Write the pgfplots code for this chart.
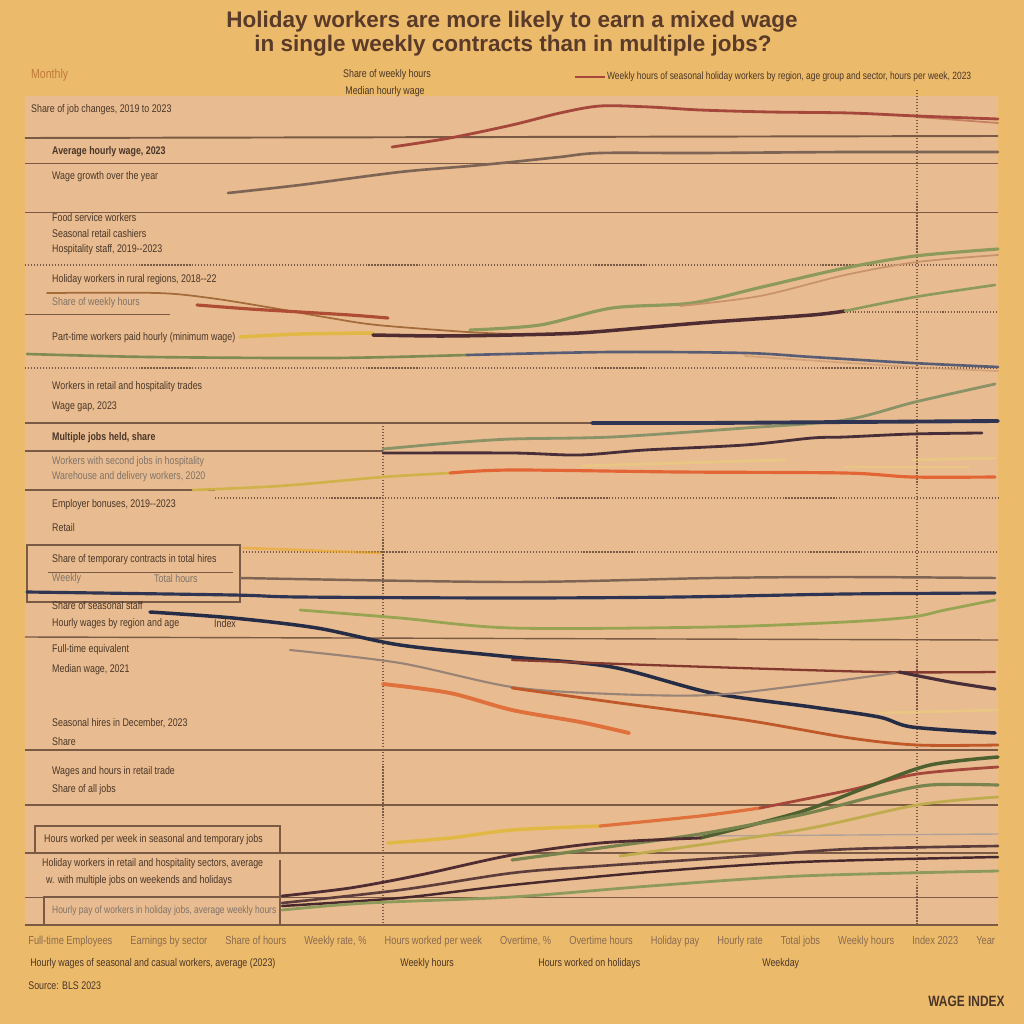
\documentclass[border=0pt]{standalone}
\usepackage{pgfplots}
\pgfplotsset{compat=1.18}
\usepackage{fontspec}
\setmainfont{Liberation Sans}
\newfontfamily\narrow[FakeStretch=0.8]{Liberation Sans}
\definecolor{outerbg}{HTML}{EBBA6A}
\definecolor{panel}{HTML}{E8BC90}
\definecolor{sep}{HTML}{7A5A45}
\definecolor{ink}{HTML}{4A3528}
\definecolor{titleink}{HTML}{5A3A28}
\definecolor{grayink}{HTML}{8A6A52}
\definecolor{redbrown}{HTML}{A5473A}
\definecolor{maroon}{HTML}{4F2C32}
\definecolor{navy}{HTML}{2E3452}
\definecolor{olive}{HTML}{8E9A5C}
\definecolor{tan}{HTML}{C8926A}
\definecolor{orangeline}{HTML}{E0703C}
\definecolor{yellowline}{HTML}{E2B845}
\definecolor{graybrown}{HTML}{7E6454}
\definecolor{darkgreen}{HTML}{4F6030}
\definecolor{orangeink}{HTML}{C07A3A}
\newcommand\lbl{\narrow\fontsize{6.3}{7}\selectfont}
\begin{document}
\begin{tikzpicture}
\begin{axis}[x=0.02cm,y=0.02cm,y dir=reverse,xmin=0,xmax=1024,ymin=0,ymax=1024,
  hide axis,clip=false,
  every axis plot/.append style={line cap=round,line join=round,smooth,tension=0.5,no markers}]
% backgrounds
\fill[outerbg] (axis cs:0,0) rectangle (axis cs:1024,1024);
\fill[panel] (axis cs:25,96) rectangle (axis cs:998,925);
% separators
\draw[sep,line width=1.1pt] (axis cs:25,138) -- (axis cs:998,136);
\draw[sep,line width=0.5pt] (axis cs:25,163) -- (axis cs:998,163);
\draw[sep,line width=0.5pt] (axis cs:25,212) -- (axis cs:998,212);
\draw[sep,line width=0.7pt,densely dotted] (axis cs:25,265) -- (axis cs:998,265);
\draw[sep,line width=0.5pt] (axis cs:25,314) -- (axis cs:170,314);
\draw[sep,line width=0.6pt,densely dotted] (axis cs:830,312) -- (axis cs:998,312);
\draw[sep,line width=0.7pt,densely dotted] (axis cs:25,368) -- (axis cs:998,368);
\draw[sep,line width=1.0pt] (axis cs:25,423) -- (axis cs:592,423);
\draw[sep,line width=0.9pt] (axis cs:25,451) -- (axis cs:383,451);
\draw[sep,line width=1.1pt] (axis cs:25,490) -- (axis cs:215,490);
\draw[sep,line width=0.7pt,densely dotted] (axis cs:215,498) -- (axis cs:998,498);
\draw[sep,line width=1.0pt] (axis cs:27,545) rectangle (axis cs:240,602);
\draw[sep,line width=0.4pt] (axis cs:48,572) -- (axis cs:233,572);
\draw[sep,line width=0.7pt,densely dotted] (axis cs:240,552) -- (axis cs:998,552);
\draw[sep,line width=0.8pt] (axis cs:25,637) -- (axis cs:998,640);
\draw[sep,line width=0.8pt] (axis cs:25,750) -- (axis cs:998,750);
\draw[sep,line width=0.8pt] (axis cs:25,805) -- (axis cs:998,805);
\draw[sep,line width=1.0pt] (axis cs:25,853) -- (axis cs:998,853);
\draw[sep,line width=0.6pt] (axis cs:35,826) rectangle (axis cs:280,853);
\draw[sep,line width=0.6pt] (axis cs:44,897) rectangle (axis cs:280,925);
\draw[sep,line width=0.6pt] (axis cs:280,860) -- (axis cs:280,897);
\draw[sep,line width=0.5pt] (axis cs:25,897) -- (axis cs:998,897);
\draw[sep,line width=1.2pt] (axis cs:25,925) -- (axis cs:998,925);
\draw[sep,line width=0.7pt,densely dotted] (axis cs:383,423) -- (axis cs:383,925);
\draw[sep,line width=0.7pt,densely dotted] (axis cs:917,90) -- (axis cs:917,925);
% ---------- series: top block
\addplot[redbrown,line width=1.6pt] coordinates {(392,147)(450,138)(512,125)(560,113)(600,106)(650,107)(700,110)(770,112)(850,113)(917,116)(998,119)};
\addplot[redbrown,line width=1.0pt,opacity=0.5] coordinates {(917,117)(998,123)};
\addplot[graybrown,line width=1.5pt] coordinates {(228,193)(300,185)(400,172)(470,166)(512,162)(560,157)(600,153)(700,153)(850,152)(998,152)};
% ---------- middle-upper block
\addplot[olive,line width=1.8pt] coordinates {(470,330)(540,325)(612,308)(692,303)(762,287)(845,268)(915,256)(998,249)};
\addplot[tan,line width=1.0pt] coordinates {(680,306)(760,296)(845,275)(917,262)(998,255)};
\addplot[graybrown!70!orange,line width=1.0pt] coordinates {(47,293)(157,293)(210,298)(267,307)(330,318)(377,325)(467,332)(512,334)};
\addplot[redbrown!90!orange,line width=1.8pt] coordinates {(197,305)(250,309)(300,312)(350,315)(388,318)};
\addplot[yellowline,line width=2.0pt] coordinates {(240,337)(300,334)(373,333)};
\addplot[maroon,line width=2.0pt] coordinates {(373,335)(440,336)(512,335)(579,333)(652,327)(712,322)(812,315)(845,311)};
\addplot[olive,line width=1.5pt] coordinates {(845,311)(915,297)(995,285)};
\addplot[olive!90!black,line width=1.5pt] coordinates {(27,354)(150,357)(333,358)(467,355)};
\addplot[navy!80!white,line width=1.5pt] coordinates {(467,355)(612,352)(745,353)(812,357)(912,363)(998,367)};
\addplot[tan,line width=1.0pt,opacity=0.6] coordinates {(745,356)(912,367)(998,371)};
% ---------- middle block
\addplot[olive!70!gray,line width=1.6pt] coordinates {(383,449)(450,443)(512,439)(612,437)(745,428)(845,420)(915,402)(995,384)};
\addplot[navy,line width=2.2pt] coordinates {(592,423)(700,423)(850,422)(998,421)};
\addplot[maroon!80!navy,line width=1.6pt] coordinates {(383,453)(512,453)(579,455)(645,450)(745,445)(812,438)(845,437)(912,434)(982,433)};
\addplot[yellowline!80!olive,line width=1.5pt] coordinates {(193,490)(280,486)(383,477)(450,473)};
\addplot[orangeline!90!red,line width=1.8pt] coordinates {(450,473)(512,470)(679,472)(845,473)(912,477)(995,477)};
\addplot[yellowline!70!white,line width=1.6pt,opacity=0.6] coordinates {(582,466)(680,463)(785,460)};
\addplot[yellowline!70!white,line width=1.6pt,opacity=0.6] coordinates {(845,467)(969,467)};
\addplot[yellowline!70!white,line width=1.6pt,opacity=0.6] coordinates {(912,460)(995,458)};
% ---------- lower-middle block
\addplot[orangeline!60!yellow,line width=1.5pt,opacity=0.6] coordinates {(243,548)(300,550)(380,553)};
\addplot[graybrown,line width=1.4pt] coordinates {(240,578)(512,582)(712,578)(845,577)(995,578)};
\addplot[navy,line width=1.8pt] coordinates {(27,592)(233,595)(300,597)(512,598)(679,597)(845,594)(995,593)};
\addplot[olive!90!yellow,line width=1.6pt] coordinates {(300,610)(400,618)(512,628)(712,627)(845,622)(912,617)(945,610)(995,600)};
\addplot[navy!85!black,line width=2.0pt] coordinates {(150,612)(233,618)(317,628)(400,645)(512,657)(612,667)(712,693)(812,707)(879,717)(912,727)(995,733)};
\addplot[redbrown!80!black,line width=1.3pt] coordinates {(512,660)(679,666)(879,672)(995,672)};
\addplot[maroon!80!navy,line width=1.8pt] coordinates {(899,672)(950,682)(995,689)};
\addplot[graybrown!80!white,line width=1.2pt] coordinates {(290,650)(400,663)(512,687)(612,694)(712,695)(812,684)(895,673)};
\addplot[orangeline,line width=2.2pt] coordinates {(383,684)(450,693)(512,710)(580,722)(629,733)};
\addplot[redbrown!70!orange,line width=1.6pt] coordinates {(512,688)(612,702)(745,720)(850,738)(917,745)(998,745)};
\addplot[yellowline!70!white,line width=1.5pt,opacity=0.6] coordinates {(880,713)(998,710)};
% ---------- bottom block
\addplot[graybrown!60!white,line width=0.8pt] coordinates {(700,836)(850,835)(998,834)};
\addplot[yellowline,line width=2.0pt] coordinates {(388,843)(450,838)(512,830)(600,826)};
\addplot[orangeline,line width=1.8pt] coordinates {(600,826)(700,816)(760,808)};
\addplot[redbrown,line width=1.6pt] coordinates {(760,808)(850,790)(917,774)(998,767)};
\addplot[darkgreen,line width=2.0pt] coordinates {(700,838)(800,812)(870,786)(930,765)(998,757)};
\addplot[olive!85!black,line width=1.8pt] coordinates {(512,860)(600,848)(700,834)(800,815)(880,795)(930,785)(998,785)};
\addplot[yellowline!60!olive,line width=1.6pt] coordinates {(620,856)(800,830)(917,805)(998,797)};
\addplot[maroon,line width=1.6pt] coordinates {(282,896)(350,888)(420,875)(512,855)(600,843)(700,838)};
\addplot[maroon!70!graybrown,line width=1.5pt] coordinates {(282,903)(400,890)(512,873)(600,866)(750,856)(850,849)(998,846)};
\addplot[maroon!90!black,line width=1.4pt] coordinates {(282,906)(400,898)(512,885)(650,872)(800,862)(998,857)};
\addplot[olive,line width=1.6pt] coordinates {(282,910)(367,903)(512,897)(650,886)(800,876)(998,871)};
% ---------- texts
\node[font=\bfseries\fontsize{12.8}{14}\selectfont,text=titleink] at (axis cs:512,22) {Holiday workers are more likely to earn a mixed wage};
\node[font=\bfseries\fontsize{12.8}{14}\selectfont,text=titleink] at (axis cs:513,46) {in single weekly contracts than in multiple jobs?};
\node[anchor=west,font=\narrow\fontsize{7.5}{8}\selectfont,text=orangeink] at (axis cs:25,75) {Monthly};
\node[font=\lbl,text=ink] at (axis cs:387,75) {Share of weekly hours};
\node[font=\lbl,text=ink] at (axis cs:385,92) {Median hourly wage};
\draw[redbrown,line width=1.5pt] (axis cs:575,77) -- (axis cs:605,77);
\node[anchor=west,font=\narrow\fontsize{6}{6}\selectfont,text=ink,inner sep=1pt] at (axis cs:605,77) {Weekly hours of seasonal holiday workers by region, age group and sector, hours per week, 2023};
\node[anchor=west,font=\lbl,text=ink] at (axis cs:25,110) {Share of job changes, 2019 to 2023};
\node[anchor=west,font=\bfseries\lbl,text=ink] at (axis cs:46,152) {Average hourly wage, 2023};
\node[anchor=west,font=\lbl,text=ink] at (axis cs:46,177) {Wage growth over the year};
\node[anchor=west,font=\lbl,text=ink] at (axis cs:46,218) {Food service workers};
\node[anchor=west,font=\lbl,text=ink] at (axis cs:46,234) {Seasonal retail cashiers};
\node[anchor=west,font=\lbl,text=ink] at (axis cs:46,250) {Hospitality staff, 2019--2023};
\node[anchor=west,font=\lbl,text=ink] at (axis cs:46,280) {Holiday workers in rural regions, 2018--22};
\node[anchor=west,font=\lbl,text=ink!70] at (axis cs:46,303) {Share of weekly hours};
\node[anchor=west,font=\lbl,text=ink] at (axis cs:46,338) {Part-time workers paid hourly (minimum wage)};
\node[anchor=west,font=\lbl,text=ink] at (axis cs:46,387) {Workers in retail and hospitality trades};
\node[anchor=west,font=\lbl,text=ink] at (axis cs:46,407) {Wage gap, 2023};
\node[anchor=west,font=\bfseries\lbl,text=ink] at (axis cs:46,438) {Multiple jobs held, share};
\node[anchor=west,font=\lbl,text=ink!70] at (axis cs:46,462) {Workers with second jobs in hospitality};
\node[anchor=west,font=\lbl,text=ink!70] at (axis cs:46,477) {Warehouse and delivery workers, 2020};
\node[anchor=west,font=\lbl,text=ink] at (axis cs:46,505) {Employer bonuses, 2019--2023};
\node[anchor=west,font=\lbl,text=ink] at (axis cs:46,528) {Retail};
\node[anchor=west,font=\lbl,text=ink] at (axis cs:46,560) {Share of temporary contracts in total hires};
\node[anchor=west,font=\lbl,text=ink!70] at (axis cs:46,579) {Weekly};
\node[anchor=west,font=\lbl,text=ink!70] at (axis cs:148,579) {Total hours};
\node[anchor=west,font=\lbl,text=ink] at (axis cs:46,606) {Share of seasonal staff};
\node[anchor=west,font=\lbl,text=ink] at (axis cs:46,624) {Hourly wages by region and age};
\node[anchor=west,font=\lbl,text=ink] at (axis cs:208,624) {Index};
\node[anchor=west,font=\lbl,text=ink] at (axis cs:46,650) {Full-time equivalent};
\node[anchor=west,font=\lbl,text=ink] at (axis cs:46,670) {Median wage, 2021};
\node[anchor=west,font=\lbl,text=ink] at (axis cs:46,723) {Seasonal hires in December, 2023};
\node[anchor=west,font=\lbl,text=ink] at (axis cs:46,742) {Share};
\node[anchor=west,font=\lbl,text=ink] at (axis cs:46,772) {Wages and hours in retail trade};
\node[anchor=west,font=\lbl,text=ink] at (axis cs:46,790) {Share of all jobs};
\node[anchor=west,font=\lbl,text=ink] at (axis cs:38,840) {Hours worked per week in seasonal and temporary jobs};
\node[anchor=west,font=\lbl,text=ink] at (axis cs:36,864) {Holiday workers in retail and hospitality sectors, average};
\node[anchor=west,font=\lbl,text=ink] at (axis cs:40,881) {w. with multiple jobs on weekends and holidays};
\node[anchor=west,font=\narrow\fontsize{6}{7}\selectfont,text=ink!70] at (axis cs:46,911) {Hourly pay of workers in holiday jobs, average weekly hours};
\node[anchor=west,font=\narrow\fontsize{6.6}{7.5}\selectfont,text=grayink,inner sep=0pt] at (axis cs:28,941) {\hbox to 19.34cm{Full-time Employees\hfill Earnings by sector\hfill Share of hours\hfill Weekly rate, \%\hfill Hours worked per week\hfill Overtime, \%\hfill Overtime hours\hfill Holiday pay\hfill Hourly rate\hfill Total jobs\hfill Weekly hours\hfill Index 2023\hfill Year}};
\node[anchor=west,font=\lbl,text=ink,inner sep=0pt] at (axis cs:30,964) {Hourly wages of seasonal and casual workers, average (2023)};
\node[anchor=west,font=\lbl,text=ink,inner sep=0pt] at (axis cs:400,964) {Weekly hours};
\node[anchor=west,font=\lbl,text=ink,inner sep=0pt] at (axis cs:538,964) {Hours worked on holidays};
\node[anchor=west,font=\lbl,text=ink,inner sep=0pt] at (axis cs:762,964) {Weekday};
\node[anchor=west,font=\lbl,text=ink,inner sep=0pt] at (axis cs:28,986) {Source: BLS 2023};
\node[anchor=east,font=\bfseries\narrow\fontsize{8.5}{9}\selectfont,text=ink,inner sep=0pt] at (axis cs:1005,1001) {WAGE INDEX};
\end{axis}
\end{tikzpicture}
\end{document}
